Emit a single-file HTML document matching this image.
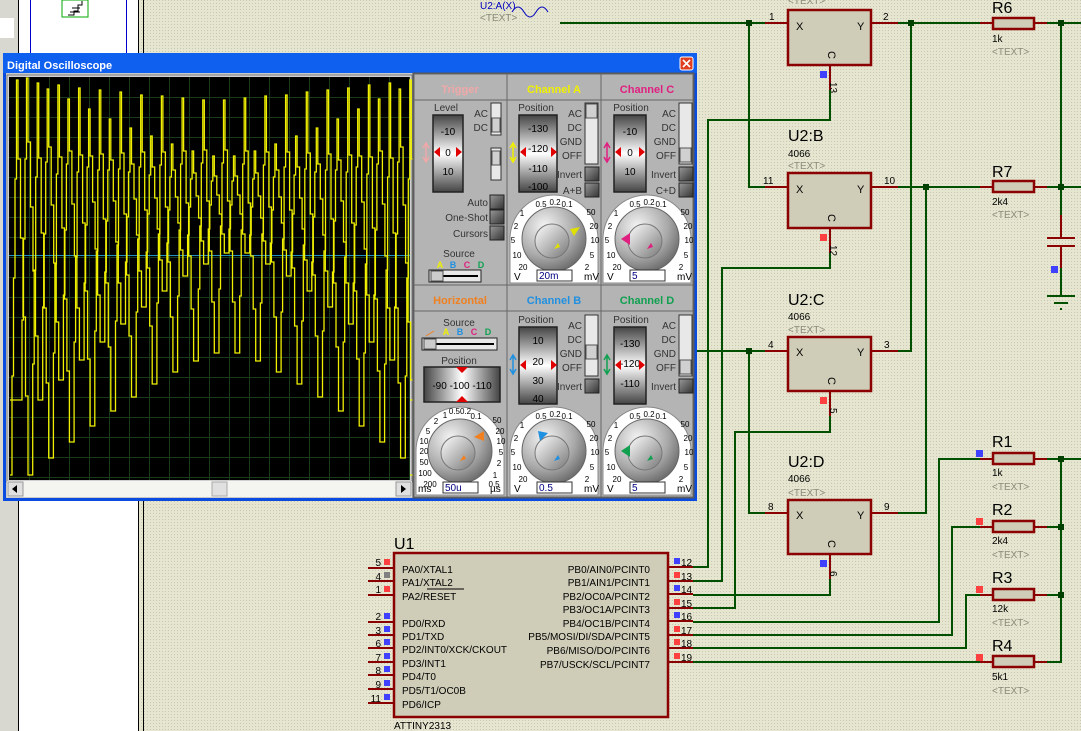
<!DOCTYPE html>
<html><head><meta charset="utf-8">
<style>
html,body{margin:0;padding:0;width:1081px;height:731px;overflow:hidden;background:#e4e4ce}
svg{display:block}
text{font-family:"Liberation Sans",sans-serif}
.sm{font-size:10px}
.pn{font-size:10px;fill:#000}
.tx{font-size:10px;fill:#8a8a7a}
.lb{font-size:16px;fill:#000}
.w{stroke:#005000;stroke-width:2;fill:none}
.r{stroke:#8b0000;stroke-width:2;fill:none}
.bx{fill:#cfcdb8;stroke:#8b0000;stroke-width:2.5}
.pl{font-size:10px;fill:#333}
.ptx{font-size:10px;fill:#333}
</style></head><body>
<svg width="1081" height="731" viewBox="0 0 1081 731" xmlns="http://www.w3.org/2000/svg">
<defs>
<linearGradient id="vs" x1="0" y1="0" x2="0" y2="1">
<stop offset="0" stop-color="#444"/><stop offset="0.5" stop-color="#fff"/><stop offset="1" stop-color="#444"/></linearGradient>
<linearGradient id="hs" x1="0" y1="0" x2="1" y2="0">
<stop offset="0" stop-color="#444"/><stop offset="0.5" stop-color="#fff"/><stop offset="1" stop-color="#444"/></linearGradient>
<radialGradient id="kn" cx="0.35" cy="0.3" r="0.8">
<stop offset="0" stop-color="#f4f4f4"/><stop offset="0.6" stop-color="#a8a8a8"/><stop offset="1" stop-color="#606060"/></radialGradient>
<linearGradient id="kn2" x1="0" y1="0" x2="1" y2="1">
<stop offset="0" stop-color="#fff"/><stop offset="0.5" stop-color="#bbb"/><stop offset="1" stop-color="#777"/></linearGradient>
<linearGradient id="btn" x1="0" y1="0" x2="1" y2="1">
<stop offset="0" stop-color="#999"/><stop offset="1" stop-color="#333"/></linearGradient>
<pattern id="dots" width="3" height="3" patternUnits="userSpaceOnUse"><rect width="3" height="3" fill="#e6e6d0"/><rect width="1" height="1" fill="#c8c8b4"/></pattern>
</defs>

<rect x="0" y="0" width="1081" height="731" fill="url(#dots)"/>
<rect x="0" y="0" width="18" height="731" fill="#d8d8d0"/>
<rect x="0" y="18" width="14" height="20" fill="#fff"/>
<rect x="18" y="0" width="120" height="731" fill="#fff"/>
<line x1="18.5" y1="0" x2="18.5" y2="731" stroke="#000"/>
<line x1="138.5" y1="0" x2="138.5" y2="731" stroke="#000"/>
<line x1="143.5" y1="0" x2="143.5" y2="731" stroke="#000"/>
<line x1="30.5" y1="0" x2="30.5" y2="55" stroke="#00c"/>
<line x1="126.5" y1="0" x2="126.5" y2="55" stroke="#00c"/>
<rect x="62" y="0" width="26" height="17" fill="#fff" stroke="#0a0"/>
<path d="M68 15 h6 v-4 h4 v-6 h4 v-4 M72 8h8 M70 12h10" stroke="#000" fill="none"/>

<text x="480" y="9" class="pn" style="fill:#0000c0">U2:A(X)</text>
<text x="480" y="21" class="tx">&lt;TEXT&gt;</text>
<path d="M512 12 q6 -10 12 0 t12 0 t12 0" stroke="#0000c0" fill="none"/>
<line x1="560" y1="23" x2="765" y2="23" class="w"/>
<text x="788" y="4" class="tx">&lt;TEXT&gt;</text>
<rect x="788" y="10" width="83" height="55" class="bx"/>
<text x="796" y="30" class="pn" style="font-size:11px">X</text>
<text x="857" y="30" class="pn" style="font-size:11px">Y</text>
<text x="827" y="58" class="pn" transform="rotate(90 831 55)" style="font-size:11px">C</text>
<line x1="765" y1="23" x2="788" y2="23" class="r"/>
<line x1="871" y1="23" x2="898" y2="23" class="r"/>
<text x="769" y="20" class="pn">1</text><text x="883" y="20" class="pn">2</text>
<line x1="830" y1="65" x2="830" y2="90" class="r"/>
<rect x="820" y="71" width="7" height="7" fill="#4040ff"/>
<text x="822" y="82" class="pn" transform="rotate(90 826 86)">13</text>
<text x="788" y="141" class="lb">U2:B</text>
<text x="788" y="157" class="pn">4066</text>
<text x="788" y="169" class="tx">&lt;TEXT&gt;</text>
<rect x="788" y="173" width="83" height="55" class="bx"/>
<text x="796" y="193" class="pn" style="font-size:11px">X</text>
<text x="857" y="193" class="pn" style="font-size:11px">Y</text>
<text x="827" y="221" class="pn" transform="rotate(90 831 218)" style="font-size:11px">C</text>
<line x1="765" y1="187" x2="788" y2="187" class="r"/>
<line x1="871" y1="187" x2="898" y2="187" class="r"/>
<text x="763" y="184" class="pn">11</text><text x="884" y="184" class="pn">10</text>
<line x1="830" y1="228" x2="830" y2="253" class="r"/>
<rect x="820" y="234" width="7" height="7" fill="#ff4040"/>
<text x="822" y="245" class="pn" transform="rotate(90 826 249)">12</text>
<text x="788" y="305" class="lb">U2:C</text>
<text x="788" y="320" class="pn">4066</text>
<text x="788" y="333" class="tx">&lt;TEXT&gt;</text>
<rect x="788" y="337" width="83" height="54" class="bx"/>
<text x="796" y="356" class="pn" style="font-size:11px">X</text>
<text x="857" y="356" class="pn" style="font-size:11px">Y</text>
<text x="827" y="384" class="pn" transform="rotate(90 831 381)" style="font-size:11px">C</text>
<line x1="765" y1="351" x2="788" y2="351" class="r"/>
<line x1="871" y1="351" x2="898" y2="351" class="r"/>
<text x="768" y="348" class="pn">4</text><text x="884" y="348" class="pn">3</text>
<line x1="830" y1="391" x2="830" y2="416" class="r"/>
<rect x="820" y="397" width="7" height="7" fill="#ff4040"/>
<text x="822" y="408" class="pn" transform="rotate(90 826 412)">5</text>
<text x="788" y="467" class="lb">U2:D</text>
<text x="788" y="482" class="pn">4066</text>
<text x="788" y="496" class="tx">&lt;TEXT&gt;</text>
<rect x="788" y="500" width="83" height="54" class="bx"/>
<text x="796" y="519" class="pn" style="font-size:11px">X</text>
<text x="857" y="519" class="pn" style="font-size:11px">Y</text>
<text x="827" y="547" class="pn" transform="rotate(90 831 544)" style="font-size:11px">C</text>
<line x1="765" y1="513" x2="788" y2="513" class="r"/>
<line x1="871" y1="513" x2="898" y2="513" class="r"/>
<text x="768" y="510" class="pn">8</text><text x="884" y="510" class="pn">9</text>
<line x1="830" y1="554" x2="830" y2="579" class="r"/>
<rect x="820" y="560" width="7" height="7" fill="#4040ff"/>
<text x="822" y="571" class="pn" transform="rotate(90 826 575)">6</text>

<path class="w" d="M749 23 V187 H765"/>
<path class="w" d="M898 23 H980"/>
<path class="w" d="M911 23 V351 H898"/>
<path class="w" d="M898 187 H980"/>
<path class="w" d="M926 187 V513 H898"/>
<path class="w" d="M693 351 H765"/>
<path class="w" d="M749 351 V513 H765"/>
<path class="w" d="M830 90 V120 H708 V567 H693"/>
<path class="w" d="M830 253 V268 H722 V581 H693"/>
<path class="w" d="M830 416 V432 H735 V608 H693"/>
<path class="w" d="M830 579 V595 H693"/>
<path class="w" d="M693 622 H939 V459 H980"/>
<path class="w" d="M693 635 H952 V527 H980"/>
<path class="w" d="M693 648 H966 V595 H980"/>
<path class="w" d="M693 662 H980"/>
<path class="w" d="M1047 23 H1081 M1047 187 H1081 M1061 23 V215 M1061 254 V296"/>
<path class="w" d="M1047 459 H1081 M1061 459 V662 H1047 M1047 527 H1061 M1047 595 H1061"/>
<path class="r" d="M1061 215 V238 M1061 246 V268"/>
<path d="M1047 238 H1075 M1047 246 H1075" stroke="#8b0000" stroke-width="2"/>
<rect x="1051" y="266" width="7" height="7" fill="#4040ff"/>
<path d="M1047 296 H1075 M1054 303 H1068 M1060 309 H1062" stroke="#005000" stroke-width="2"/>
<g fill="#004000">
<rect x="746" y="20" width="6" height="6"/><rect x="908" y="20" width="6" height="6"/>
<rect x="923" y="184" width="6" height="6"/><rect x="1058" y="20" width="6" height="6"/>
<rect x="1058" y="184" width="6" height="6"/><rect x="746" y="348" width="6" height="6"/>
<rect x="1058" y="456" width="6" height="6"/><rect x="1058" y="524" width="6" height="6"/>
<rect x="1058" y="592" width="6" height="6"/>
</g>
<g>
<path class="r" d="M980 23 H993 M1034 23 H1047"/><rect x="993" y="18" width="41" height="11" class="bx" stroke-width="2"/>
<text x="992" y="13" class="lb">R6</text><text x="992" y="42" class="pn">1k</text><text x="992" y="55" class="tx">&lt;TEXT&gt;</text>
<path class="r" d="M980 187 H993 M1034 187 H1047"/><rect x="993" y="181" width="41" height="11" class="bx" stroke-width="2"/>
<text x="992" y="177" class="lb">R7</text><text x="992" y="205" class="pn">2k4</text><text x="992" y="218" class="tx">&lt;TEXT&gt;</text>
<path class="r" d="M980 459 H993 M1034 459 H1047"/><rect x="993" y="453" width="41" height="11" class="bx" stroke-width="2"/>
<text x="992" y="447" class="lb">R1</text><text x="992" y="476" class="pn">1k</text><text x="992" y="490" class="tx">&lt;TEXT&gt;</text>
<rect x="976" y="450" width="7" height="7" fill="#4040ff"/>
<path class="r" d="M980 527 H993 M1034 527 H1047"/><rect x="993" y="521" width="41" height="11" class="bx" stroke-width="2"/>
<text x="992" y="515" class="lb">R2</text><text x="992" y="544" class="pn">2k4</text><text x="992" y="558" class="tx">&lt;TEXT&gt;</text>
<rect x="976" y="518" width="7" height="7" fill="#ff4040"/>
<path class="r" d="M980 595 H993 M1034 595 H1047"/><rect x="993" y="589" width="41" height="11" class="bx" stroke-width="2"/>
<text x="992" y="583" class="lb">R3</text><text x="992" y="612" class="pn">12k</text><text x="992" y="626" class="tx">&lt;TEXT&gt;</text>
<rect x="976" y="586" width="7" height="7" fill="#ff4040"/>
<path class="r" d="M980 662 H993 M1034 662 H1047"/><rect x="993" y="656" width="41" height="11" class="bx" stroke-width="2"/>
<text x="992" y="651" class="lb">R4</text><text x="992" y="680" class="pn">5k1</text><text x="992" y="694" class="tx">&lt;TEXT&gt;</text>
<rect x="976" y="654" width="7" height="7" fill="#ff4040"/>
</g>

<text x="394" y="549" class="lb">U1</text>
<rect x="394" y="553" width="274" height="164" class="bx"/>
<text x="394" y="729" class="pn">ATTINY2313</text>
<g class="r">
<path d="M368 568H394M368 581H394M368 595H394M368 622H394M368 635H394M368 648H394M368 662H394M368 675H394M368 689H394M368 703H394"/>
<path d="M668 567H693M668 581H693M668 594H693M668 608H693M668 621H693M668 635H693M668 648H693M668 662H693"/>
</g>
<g class="pn">
<text x="402" y="573">PA0/XTAL1</text><text x="402" y="586">PA1/XTAL2</text><text x="402" y="600">PA2/RESET</text>
<text x="402" y="627">PD0/RXD</text><text x="402" y="640">PD1/TXD</text><text x="402" y="653">PD2/INT0/XCK/CKOUT</text>
<text x="402" y="667">PD3/INT1</text><text x="402" y="680">PD4/T0</text><text x="402" y="694">PD5/T1/OC0B</text><text x="402" y="708">PD6/ICP</text>
</g>
<line x1="427" y1="589" x2="464" y2="589" stroke="#000"/>
<g class="pn" text-anchor="end">
<text x="650" y="573">PB0/AIN0/PCINT0</text><text x="650" y="586">PB1/AIN1/PCINT1</text>
<text x="650" y="600">PB2/OC0A/PCINT2</text><text x="650" y="613">PB3/OC1A/PCINT3</text>
<text x="650" y="627">PB4/OC1B/PCINT4</text><text x="650" y="640">PB5/MOSI/DI/SDA/PCINT5</text>
<text x="650" y="654">PB6/MISO/DO/PCINT6</text><text x="650" y="668">PB7/USCK/SCL/PCINT7</text>
</g>
<g class="pn" text-anchor="end">
<text x="381" y="566">5</text><text x="381" y="580">4</text><text x="381" y="593">1</text>
<text x="381" y="620">2</text><text x="381" y="634">3</text><text x="381" y="647">6</text><text x="381" y="661">7</text>
<text x="381" y="674">8</text><text x="381" y="688">9</text><text x="381" y="702">11</text>
</g>
<g>
<rect x="384" y="559" width="6" height="6" fill="#ff4040"/><rect x="384" y="572" width="6" height="6" fill="#808080"/>
<rect x="384" y="586" width="6" height="6" fill="#ff4040"/>
<rect x="384" y="613" width="6" height="6" fill="#4040ff"/><rect x="384" y="626" width="6" height="6" fill="#4040ff"/>
<rect x="384" y="639" width="6" height="6" fill="#4040ff"/><rect x="384" y="653" width="6" height="6" fill="#4040ff"/>
<rect x="384" y="666" width="6" height="6" fill="#4040ff"/><rect x="384" y="680" width="6" height="6" fill="#4040ff"/>
<rect x="384" y="694" width="6" height="6" fill="#4040ff"/>
</g>
<g class="pn">
<text x="681" y="566">12</text><text x="681" y="580">13</text><text x="681" y="593">14</text><text x="681" y="607">15</text>
<text x="681" y="620">16</text><text x="681" y="634">17</text><text x="681" y="647">18</text><text x="681" y="661">19</text>
</g>
<g>
<rect x="674" y="558" width="6" height="6" fill="#4040ff"/><rect x="674" y="572" width="6" height="6" fill="#ff4040"/>
<rect x="674" y="585" width="6" height="6" fill="#4040ff"/><rect x="674" y="599" width="6" height="6" fill="#ff4040"/>
<rect x="674" y="612" width="6" height="6" fill="#4040ff"/><rect x="674" y="626" width="6" height="6" fill="#ff4040"/>
<rect x="674" y="639" width="6" height="6" fill="#ff4040"/><rect x="674" y="653" width="6" height="6" fill="#ff4040"/>
</g>

<rect x="3" y="53" width="694" height="448" fill="#0a4ce0"/>
<rect x="3" y="53" width="694" height="20" fill="#1060f0"/>
<text x="7" y="69" style="font-size:11px;font-weight:bold;fill:#fff">Digital Oscilloscope</text>
<rect x="680" y="57" width="13" height="13" rx="2" fill="#e04020" stroke="#fff"/>
<path d="M683 60 L690 67 M690 60 L683 67" stroke="#fff" stroke-width="1.6"/>
<rect x="6" y="73" width="688" height="425" fill="#c8c8c8"/>
<rect x="7" y="75" width="405" height="407" fill="#d0d0d0" stroke="#808080"/>
<rect x="9" y="77" width="401" height="403" fill="#000"/>
<g stroke="#1a3a1a" stroke-width="1" id="grid"></g>
<line x1="9" y1="255.5" x2="410" y2="255.5" stroke="#2090c0"/>
<path id="w1" fill="none" stroke="#f0f000" stroke-width="1.3"/>
<path id="w2" fill="none" stroke="#f0f000" stroke-width="1.3"/>
<rect x="7" y="481" width="405" height="16" fill="#f4f4f0"/>
<rect x="8" y="482" width="15" height="14" fill="#e0e0e0" stroke="#999"/>
<path d="M17 485 L12 489 L17 493Z" fill="#000"/>
<rect x="212" y="482" width="15" height="14" fill="#e0e0e0" stroke="#aaa"/>
<rect x="396" y="482" width="15" height="14" fill="#e0e0e0" stroke="#999"/>
<path d="M401 485 L406 489 L401 493Z" fill="#000"/>

<rect x="413" y="73" width="281" height="425" fill="#b4b4b4" stroke="#555"/>
<g stroke="#666" fill="none">
<rect x="414" y="74" width="93" height="211"/><rect x="507" y="74" width="94" height="211"/><rect x="601" y="74" width="92" height="211"/>
<rect x="414" y="285" width="93" height="212"/><rect x="507" y="285" width="94" height="212"/><rect x="601" y="285" width="92" height="212"/>
<path d="M414 100H693M414 311H693"/>
</g>
<g style="font-size:11px;font-weight:bold" text-anchor="middle">
<text x="460" y="93" fill="#f0a8a8">Trigger</text>
<text x="554" y="93" fill="#f0f000">Channel A</text>
<text x="647" y="93" fill="#e02080">Channel C</text>
<text x="460" y="304" fill="#f08020">Horizontal</text>
<text x="554" y="304" fill="#2090e0">Channel B</text>
<text x="647" y="304" fill="#10a050">Channel D</text>
</g>
<g class="ptx" text-anchor="middle">
<text x="446" y="111">Level</text><text x="536" y="111">Position</text><text x="631" y="111">Position</text>
<text x="536" y="323">Position</text><text x="631" y="323">Position</text>
<text x="459" y="326">Source</text><text x="459" y="364">Position</text><text x="459" y="257">Source</text>
</g>
<g stroke="#222" stroke-width="1.5">
<rect x="433" y="115" width="30" height="77" fill="url(#vs)"/>
<rect x="519" y="115" width="38" height="77" fill="url(#vs)"/>
<rect x="614" y="115" width="32" height="77" fill="url(#vs)"/>
<rect x="519" y="327" width="38" height="77" fill="url(#vs)"/>
<rect x="614" y="327" width="32" height="77" fill="url(#vs)"/>
<rect x="424" y="367" width="76" height="35" fill="url(#hs)"/>
</g>
<g style="font-size:10px" fill="#000" text-anchor="middle">
<text x="448" y="135">-10</text><text x="448" y="156">0</text><text x="448" y="175">10</text>
<text x="538" y="132">-130</text><text x="538" y="152">-120</text><text x="538" y="172">-110</text><text x="538" y="190">-100</text>
<text x="630" y="135">-10</text><text x="630" y="156">0</text><text x="630" y="175">10</text>
<text x="538" y="344">10</text><text x="538" y="365">20</text><text x="538" y="384">30</text><text x="538" y="402">40</text>
<text x="630" y="347">-130</text><text x="630" y="367">-120</text><text x="630" y="387">-110</text>
<text x="462" y="389">-90 -100 -110</text>
</g>
<g fill="#e00000">
<path d="M434 152 l6 -5 v10z M462 152 l-6 -5 v10z"/>
<path d="M520 152 l6 -5 v10z M557 152 l-6 -5 v10z"/>
<path d="M615 152 l6 -5 v10z M645 152 l-6 -5 v10z"/>
<path d="M520 365 l6 -5 v10z M557 365 l-6 -5 v10z"/>
<path d="M615 365 l6 -5 v10z M645 365 l-6 -5 v10z"/>
<path d="M456 367 l6 6 l6 -6z M456 402 l6 -6 l6 6z"/>
</g>
<path d="M423 148 l3 -5 l3 5 M423 157 l3 5 l3 -5 M426 143 v19" stroke="#f0a8a8" stroke-width="1.5" fill="none"/>
<path d="M510 148 l3 -5 l3 5 M510 157 l3 5 l3 -5 M513 143 v19" stroke="#f0f000" stroke-width="1.5" fill="none"/>
<path d="M604 148 l3 -5 l3 5 M604 157 l3 5 l3 -5 M607 143 v19" stroke="#e02080" stroke-width="1.5" fill="none"/>
<path d="M510 360 l3 -5 l3 5 M510 369 l3 5 l3 -5 M513 355 v19" stroke="#2090e0" stroke-width="1.5" fill="none"/>
<path d="M604 360 l3 -5 l3 5 M604 369 l3 5 l3 -5 M607 355 v19" stroke="#10a050" stroke-width="1.5" fill="none"/>
<g class="ptx" text-anchor="end">
<text x="488" y="117">AC</text><text x="488" y="131">DC</text>
<text x="582" y="117">AC</text><text x="582" y="131">DC</text><text x="582" y="145">GND</text><text x="582" y="159">OFF</text>
<text x="676" y="117">AC</text><text x="676" y="131">DC</text><text x="676" y="145">GND</text><text x="676" y="159">OFF</text>
<text x="582" y="329">AC</text><text x="582" y="343">DC</text><text x="582" y="357">GND</text><text x="582" y="371">OFF</text>
<text x="676" y="329">AC</text><text x="676" y="343">DC</text><text x="676" y="357">GND</text><text x="676" y="371">OFF</text>
<text x="582" y="178">Invert</text><text x="582" y="194">A+B</text>
<text x="676" y="178">Invert</text><text x="676" y="194">C+D</text>
<text x="582" y="390">Invert</text><text x="676" y="390">Invert</text>
<text x="488" y="206">Auto</text><text x="488" y="221">One-Shot</text><text x="488" y="237">Cursors</text>
</g>
<g fill="#e8e8e8" stroke="#333">
<rect x="491" y="103" width="10" height="32"/><rect x="491" y="148" width="10" height="32"/>
<rect x="585" y="103" width="13" height="61"/><rect x="679" y="103" width="13" height="61"/>
<rect x="585" y="315" width="13" height="61"/><rect x="679" y="315" width="13" height="61"/>
</g>
<g fill="#d0d0d0" stroke="#555">
<rect x="492" y="118" width="8" height="14"/><rect x="492" y="151" width="8" height="14"/>
<rect x="586" y="104" width="11" height="14"/><rect x="680" y="148" width="11" height="14"/>
<rect x="586" y="345" width="11" height="14"/><rect x="680" y="360" width="11" height="14"/>
</g>
<g fill="url(#btn)" stroke="#222">
<rect x="585" y="167" width="14" height="14"/><rect x="585" y="183" width="14" height="14"/>
<rect x="679" y="167" width="14" height="14"/><rect x="679" y="183" width="14" height="14"/>
<rect x="585" y="379" width="14" height="14"/><rect x="679" y="379" width="14" height="14"/>
<rect x="490" y="195" width="14" height="14"/><rect x="490" y="210" width="14" height="14"/><rect x="490" y="226" width="14" height="14"/>
</g>
<g style="font-size:9px;font-weight:bold" text-anchor="middle">
<text x="440" y="268" fill="#f0f000">A</text><text x="453" y="268" fill="#2090e0">B</text><text x="467" y="268" fill="#e02080">C</text><text x="481" y="268" fill="#10a050">D</text>
<text x="446" y="335" fill="#f0f000">A</text><text x="460" y="335" fill="#2090e0">B</text><text x="474" y="335" fill="#e02080">C</text><text x="488" y="335" fill="#10a050">D</text>
</g>
<path d="M426 336 l8 -5" stroke="#f08020"/>
<g stroke="#222" fill="#e8e8e8">
<rect x="429" y="270" width="52" height="12"/><rect x="422" y="338" width="75" height="12"/>
</g>
<path d="M440 276 H478 M433 344 H494" stroke="#000" stroke-width="2"/>
<rect x="431" y="271" width="12" height="10" fill="#ccc" stroke="#555"/>
<rect x="424" y="339" width="12" height="10" fill="#ccc" stroke="#555"/>

<g>
<g transform="translate(554,239)">
<path d="M-44 44 V0 A44 44 0 0 1 44 0 V44Z" fill="#fff" stroke="#888"/>
<circle r="32" fill="url(#kn)" stroke="#666"/><circle cx="-2" cy="2" r="17" fill="url(#kn2)" stroke="#777"/>
<path d="M16 -10 l10 -2 l-6 9z" fill="#e0e000"/><path d="M6 8 l-6 2 l4 -6z" fill="#e0e000"/>
<rect x="-17" y="31" width="35" height="11" fill="#fff" stroke="#333"/>
<text x="-15" y="40" style="font-size:10px;fill:#000080">20m</text>
<text x="-40" y="41" style="font-size:10px">V</text><text x="30" y="41" style="font-size:10px">mV</text>
</g>
<g transform="translate(647,239)">
<path d="M-44 44 V0 A44 44 0 0 1 44 0 V44Z" fill="#fff" stroke="#888"/>
<circle r="32" fill="url(#kn)" stroke="#666"/><circle cx="-2" cy="2" r="17" fill="url(#kn2)" stroke="#777"/>
<path d="M-26 0 l9 -6 v12z" fill="#e02080"/><path d="M6 8 l-6 2 l4 -6z" fill="#e02080"/>
<rect x="-17" y="31" width="35" height="11" fill="#fff" stroke="#333"/>
<text x="-15" y="40" style="font-size:10px;fill:#000080">5</text>
<text x="-40" y="41" style="font-size:10px">V</text><text x="30" y="41" style="font-size:10px">mV</text>
</g>
<g transform="translate(554,451)">
<path d="M-44 44 V0 A44 44 0 0 1 44 0 V44Z" fill="#fff" stroke="#888"/>
<circle r="32" fill="url(#kn)" stroke="#666"/><circle cx="-2" cy="2" r="17" fill="url(#kn2)" stroke="#777"/>
<path d="M-16 -20 l10 2 l-8 8z" fill="#2090e0"/><path d="M6 8 l-6 2 l4 -6z" fill="#2090e0"/>
<rect x="-17" y="31" width="35" height="11" fill="#fff" stroke="#333"/>
<text x="-15" y="40" style="font-size:10px;fill:#000080">0.5</text>
<text x="-40" y="41" style="font-size:10px">V</text><text x="30" y="41" style="font-size:10px">mV</text>
</g>
<g transform="translate(647,451)">
<path d="M-44 44 V0 A44 44 0 0 1 44 0 V44Z" fill="#fff" stroke="#888"/>
<circle r="32" fill="url(#kn)" stroke="#666"/><circle cx="-2" cy="2" r="17" fill="url(#kn2)" stroke="#777"/>
<path d="M-26 0 l9 -6 v12z" fill="#10a050"/><path d="M6 8 l-6 2 l4 -6z" fill="#10a050"/>
<rect x="-17" y="31" width="35" height="11" fill="#fff" stroke="#333"/>
<text x="-15" y="40" style="font-size:10px;fill:#000080">5</text>
<text x="-40" y="41" style="font-size:10px">V</text><text x="30" y="41" style="font-size:10px">mV</text>
</g>
<g transform="translate(460,451)">
<path d="M-44 44 V0 A44 44 0 0 1 44 0 V44Z" fill="#fff" stroke="#888"/>
<circle r="32" fill="url(#kn)" stroke="#666"/><circle cx="-2" cy="2" r="17" fill="url(#kn2)" stroke="#777"/>
<path d="M14 -14 l10 -6 v10z" fill="#f08020"/><path d="M6 8 l-6 2 l4 -6z" fill="#f08020"/>
<rect x="-17" y="31" width="35" height="11" fill="#fff" stroke="#333"/>
<text x="-15" y="40" style="font-size:10px;fill:#000080">50u</text>
<text x="-42" y="41" style="font-size:10px">ms</text><text x="30" y="41" style="font-size:10px">µs</text>
</g>
<g style="font-size:8px" fill="#000" text-anchor="middle">
<text x="541" y="207">0.5</text><text x="555" y="205">0.2</text><text x="567" y="207">0.1</text>
<text x="522" y="216">1</text><text x="516" y="229">2</text><text x="513" y="243">5</text><text x="517" y="258">10</text><text x="523" y="270">20</text>
<text x="591" y="215">50</text><text x="594" y="229">20</text><text x="595" y="243">10</text><text x="592" y="258">5</text><text x="587" y="270">2</text>
<text x="635" y="207">0.5</text><text x="649" y="205">0.2</text><text x="661" y="207">0.1</text>
<text x="616" y="216">1</text><text x="610" y="229">2</text><text x="607" y="243">5</text><text x="611" y="258">10</text><text x="617" y="270">20</text>
<text x="685" y="215">50</text><text x="688" y="229">20</text><text x="689" y="243">10</text><text x="686" y="258">5</text><text x="681" y="270">2</text>
<text x="541" y="419">0.5</text><text x="555" y="417">0.2</text><text x="567" y="419">0.1</text>
<text x="522" y="428">1</text><text x="516" y="441">2</text><text x="513" y="455">5</text><text x="517" y="470">10</text><text x="523" y="482">20</text>
<text x="591" y="427">50</text><text x="594" y="441">20</text><text x="595" y="455">10</text><text x="592" y="470">5</text><text x="587" y="482">2</text>
<text x="635" y="419">0.5</text><text x="649" y="417">0.2</text><text x="661" y="419">0.1</text>
<text x="616" y="428">1</text><text x="610" y="441">2</text><text x="607" y="455">5</text><text x="611" y="470">10</text><text x="617" y="482">20</text>
<text x="685" y="427">50</text><text x="688" y="441">20</text><text x="689" y="455">10</text><text x="686" y="470">5</text><text x="681" y="482">2</text>
<text x="460" y="414">0.50.2</text><text x="476" y="419">0.1</text><text x="445" y="418">1</text>
<text x="436" y="424">2</text><text x="428" y="434">5</text><text x="424" y="444">10</text><text x="424" y="454">20</text><text x="424" y="465">50</text><text x="425" y="476">100</text><text x="430" y="487">200</text>
<text x="497" y="423">50</text><text x="500" y="434">20</text><text x="501" y="444">10</text><text x="501" y="455">5</text><text x="499" y="466">2</text><text x="495" y="478">1</text><text x="494" y="487">0.5</text>
</g>
</g>
</svg>
<script>
(function(){
var ns="http://www.w3.org/2000/svg",g=document.getElementById("grid");
for(var x=29;x<410;x+=20){var l=document.createElementNS(ns,"line");l.setAttribute("x1",x+.5);l.setAttribute("x2",x+.5);l.setAttribute("y1",77);l.setAttribute("y2",480);g.appendChild(l);}
for(var y=97;y<480;y+=20){var l=document.createElementNS(ns,"line");l.setAttribute("y1",y+.5);l.setAttribute("y2",y+.5);l.setAttribute("x1",9);l.setAttribute("x2",410);g.appendChild(l);}
function trace(off,lowF,highF){
 var d="M10 "+lowF(0).toFixed(0);
 for(var i=0;i<20;i++){
  var px=12+off+i*20.7,u=i/19,lo=lowF(u),hi=highF(u),s=(lo-hi)/4;
  d+=" H"+(px).toFixed(1);
  for(var k=1;k<=4;k++){d+=" V"+(lo-s*k).toFixed(0)+" H"+(px+k*1.5).toFixed(1);}
  var q=px+6;
  for(var k=1;k<=5;k++){d+=" V"+(hi+(lo-hi)*k/5).toFixed(0)+" H"+(q+k*2.5).toFixed(1);}
 }
 d+=" H410";return d;
}
function env(u){return Math.pow(Math.abs(u-0.5)*2,1.3);}
document.getElementById("w1").setAttribute("d",trace(0,function(u){return 350+125*env(u);},function(u){return 80+20*(1-env(u));}));
document.getElementById("w2").setAttribute("d",trace(10,function(u){return 250+150*env(u);},function(u){return 78+80*(1-env(u));}));
})();
</script>
</body></html>
